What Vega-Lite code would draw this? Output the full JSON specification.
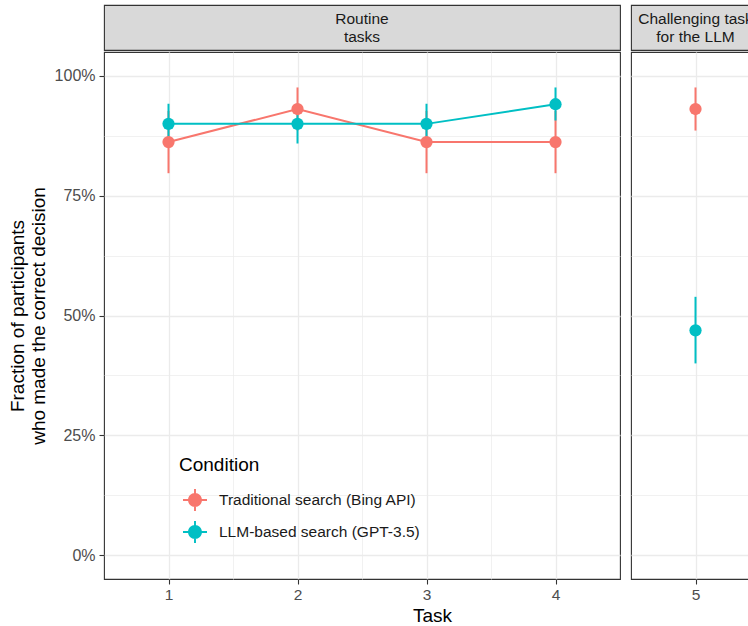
{
  "$schema": "https://vega.github.io/schema/vega-lite/v6.json",
  "padding": {"left": 7, "top": 4, "right": 0, "bottom": 0},
  "config": {
    "font": "Liberation Sans",
    "view": {"stroke": "#333333", "strokeWidth": 1.1},
    "axis": {"gridColor": "#EBEBEB"}
  },
  "datasets": {
    "d": [
      {"panel": "routine", "task": 1, "condition": "Traditional search (Bing API)", "frac": 0.862, "lo": 0.797, "hi": 0.927},
      {"panel": "routine", "task": 2, "condition": "Traditional search (Bing API)", "frac": 0.931, "lo": 0.886, "hi": 0.976},
      {"panel": "routine", "task": 3, "condition": "Traditional search (Bing API)", "frac": 0.862, "lo": 0.797, "hi": 0.927},
      {"panel": "routine", "task": 4, "condition": "Traditional search (Bing API)", "frac": 0.862, "lo": 0.797, "hi": 0.927},
      {"panel": "routine", "task": 1, "condition": "LLM-based search (GPT-3.5)", "frac": 0.900, "lo": 0.859, "hi": 0.942},
      {"panel": "routine", "task": 2, "condition": "LLM-based search (GPT-3.5)", "frac": 0.900, "lo": 0.859, "hi": 0.942},
      {"panel": "routine", "task": 3, "condition": "LLM-based search (GPT-3.5)", "frac": 0.900, "lo": 0.859, "hi": 0.942},
      {"panel": "routine", "task": 4, "condition": "LLM-based search (GPT-3.5)", "frac": 0.941, "lo": 0.907, "hi": 0.976},
      {"panel": "challenging", "task": 5, "condition": "Traditional search (Bing API)", "frac": 0.931, "lo": 0.886, "hi": 0.976},
      {"panel": "challenging", "task": 5, "condition": "LLM-based search (GPT-3.5)", "frac": 0.469, "lo": 0.400, "hi": 0.539}
    ],
    "strips": [
      {"panel": "routine", "label": "Routine\ntasks"},
      {"panel": "challenging", "label": "Challenging task\nfor the LLM"}
    ]
  },
  "spacing": 9,
  "resolve": {"scale": {"color": "independent"}, "legend": {"color": "independent"}},
  "hconcat": [
    {
      "spacing": 0,
      "vconcat": [
        {
          "width": 516, "height": 45,
          "view": {"fill": "#D9D9D9", "stroke": "#333333", "strokeWidth": 1.1},
          "data": {"name": "strips"},
          "transform": [{"filter": "datum.panel == 'routine'"}],
          "mark": {"type": "text", "lineBreak": "\n", "fontSize": 15.5, "lineHeight": 18, "dy": -9, "color": "#1A1A1A"},
          "encoding": {"text": {"field": "label", "type": "nominal"}}
        },
        {
          "width": 516, "height": 527,
          "data": {"name": "d"},
          "transform": [{"filter": "datum.panel == 'routine'"}],
          "resolve": {"axis": {"x": "independent", "y": "independent"}},
          "layer": [
            {
              "mark": {"type": "line", "strokeWidth": 2},
              "encoding": {
                "x": {"field": "task", "type": "quantitative", "scale": {"domain": [0.5, 4.5], "nice": false, "zero": false},
                      "axis": {"orient": "bottom", "values": [1.5, 2.5, 3.5], "grid": true, "gridWidth": 0.7, "labels": false, "ticks": false, "domain": false, "title": null}},
                "y": {"field": "frac", "type": "quantitative", "scale": {"domain": [-0.05, 1.05], "nice": false, "zero": false},
                      "axis": {"orient": "left", "values": [0.125, 0.375, 0.625, 0.875], "grid": true, "gridWidth": 0.7, "labels": false, "ticks": false, "domain": false, "title": null}},
                "color": {"field": "condition", "type": "nominal",
                          "scale": {"domain": ["Traditional search (Bing API)", "LLM-based search (GPT-3.5)"], "range": ["#F8766D", "#00BFC4"]},
                          "legend": {
                            "title": "Condition", "orient": "none", "legendX": 75, "legendY": 451,
                            "symbolType": "M-0.58,0 A0.58,0.58 0 1,1 0.58,0 A0.58,0.58 0 1,1 -0.58,0 Z M-0.08,-0.92 L0.08,-0.92 L0.08,0.92 L-0.08,0.92 Z M-1,-0.08 L1,-0.08 L1,0.08 L-1,0.08 Z",
                            "symbolSize": 576, "symbolOffset": 4, "symbolStrokeWidth": 0, "symbolOpacity": 1,
                            "symbolFillColor": null,
                            "labelOffset": 12, "labelFontSize": 15.5, "labelColor": "#1A1A1A", "labelLimit": 400,
                            "titleFontSize": 19, "titleFontWeight": "normal", "titleColor": "#000000", "titlePadding": 13,
                            "rowPadding": 8, "padding": 0
                          }}
              }
            },
            {
              "mark": {"type": "rule", "strokeWidth": 2},
              "encoding": {
                "x": {"field": "task", "type": "quantitative", "axis": null},
                "y": {"field": "lo", "type": "quantitative", "axis": null},
                "y2": {"field": "hi"},
                "color": {"field": "condition", "type": "nominal",
                          "scale": {"domain": ["Traditional search (Bing API)", "LLM-based search (GPT-3.5)"], "range": ["#F8766D", "#00BFC4"]}}
              }
            },
            {
              "mark": {"type": "point", "filled": true, "size": 150, "opacity": 1},
              "encoding": {
                "x": {"field": "task", "type": "quantitative",
                      "axis": {"orient": "bottom", "values": [1, 2, 3, 4], "format": "d", "grid": true, "gridWidth": 1.3,
                               "domain": false, "ticks": true, "tickSize": 5, "tickColor": "#333333", "tickWidth": 1.1,
                               "labelFontSize": 15.5, "labelColor": "#4D4D4D", "labelPadding": 3,
                               "title": "Task", "titleX": 328, "titleFontSize": 19, "titleFontWeight": "normal", "titleColor": "#000000", "titlePadding": 4}},
                "y": {"field": "frac", "type": "quantitative",
                      "axis": {"orient": "left", "values": [0, 0.25, 0.5, 0.75, 1], "format": ".0%", "grid": true, "gridWidth": 1.3,
                               "domain": false, "ticks": true, "tickSize": 5, "tickColor": "#333333", "tickWidth": 1.1,
                               "labelFontSize": 16, "labelColor": "#4D4D4D", "labelPadding": 4,
                               "title": ["Fraction of participants", "who made the correct decision"],
                               "titleFontSize": 19, "titleFontWeight": "normal", "titleColor": "#000000", "titleLineHeight": 21, "titlePadding": 6}},
                "color": {"field": "condition", "type": "nominal",
                          "scale": {"domain": ["Traditional search (Bing API)", "LLM-based search (GPT-3.5)"], "range": ["#F8766D", "#00BFC4"]}}
              }
            }
          ]
        }
      ]
    },
    {
      "spacing": 0,
      "vconcat": [
        {
          "width": 129, "height": 45,
          "view": {"fill": "#D9D9D9", "stroke": "#333333", "strokeWidth": 1.1},
          "data": {"name": "strips"},
          "transform": [{"filter": "datum.panel == 'challenging'"}],
          "mark": {"type": "text", "lineBreak": "\n", "fontSize": 15.5, "lineHeight": 18, "dy": -9, "color": "#1A1A1A"},
          "encoding": {"text": {"field": "label", "type": "nominal"}}
        },
        {
          "width": 129, "height": 527,
          "data": {"name": "d"},
          "transform": [{"filter": "datum.panel == 'challenging'"}],
          "resolve": {"axis": {"x": "independent", "y": "independent"}},
          "layer": [
            {
              "mark": {"type": "rule", "strokeWidth": 2},
              "encoding": {
                "x": {"field": "task", "type": "quantitative", "scale": {"domain": [4.5, 5.5], "nice": false, "zero": false}, "axis": null},
                "y": {"field": "lo", "type": "quantitative", "scale": {"domain": [-0.05, 1.05], "nice": false, "zero": false},
                      "axis": {"orient": "left", "values": [0.125, 0.375, 0.625, 0.875], "grid": true, "gridWidth": 0.7, "labels": false, "ticks": false, "domain": false, "title": null}},
                "y2": {"field": "hi"},
                "color": {"field": "condition", "type": "nominal",
                          "scale": {"domain": ["Traditional search (Bing API)", "LLM-based search (GPT-3.5)"], "range": ["#F8766D", "#00BFC4"]},
                          "legend": null}
              }
            },
            {
              "mark": {"type": "point", "filled": true, "size": 150, "opacity": 1},
              "encoding": {
                "x": {"field": "task", "type": "quantitative",
                      "axis": {"orient": "bottom", "values": [5], "format": "d", "grid": true, "gridWidth": 1.3,
                               "domain": false, "ticks": true, "tickSize": 5, "tickColor": "#333333", "tickWidth": 1.1,
                               "labelFontSize": 15.5, "labelColor": "#4D4D4D", "labelPadding": 3, "title": null}},
                "y": {"field": "frac", "type": "quantitative",
                      "axis": {"orient": "left", "values": [0, 0.25, 0.5, 0.75, 1], "grid": true, "gridWidth": 1.3,
                               "labels": false, "ticks": false, "domain": false, "title": null}},
                "color": {"field": "condition", "type": "nominal",
                          "scale": {"domain": ["Traditional search (Bing API)", "LLM-based search (GPT-3.5)"], "range": ["#F8766D", "#00BFC4"]},
                          "legend": null}
              }
            }
          ]
        }
      ]
    }
  ]
}
